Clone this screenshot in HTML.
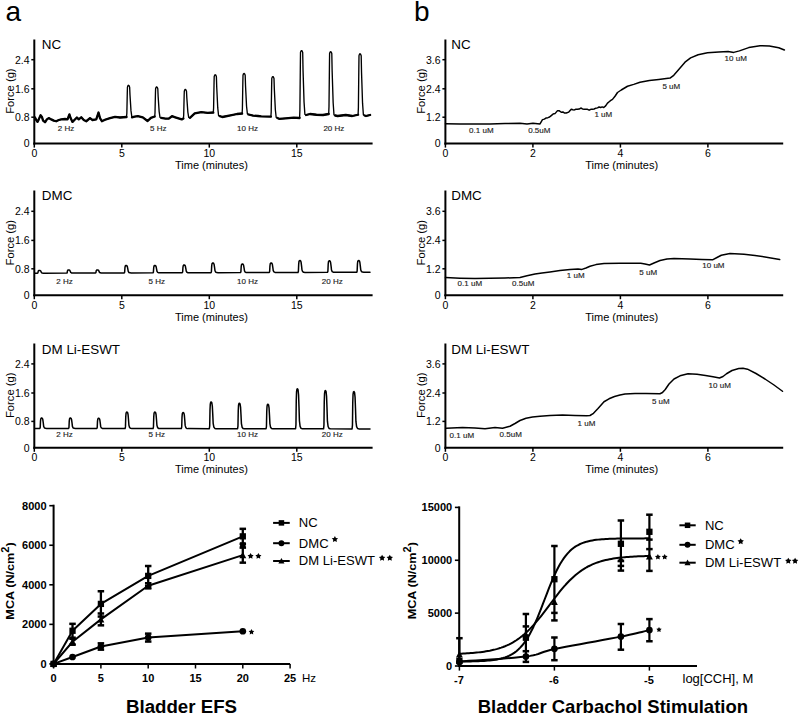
<!DOCTYPE html>
<html><head><meta charset="utf-8"><title>Bladder EFS and Carbachol</title>
<style>
html,body{margin:0;padding:0;background:#fff;}
svg{display:block;font-family:"Liberation Sans", sans-serif;}
</style></head>
<body>
<svg width="800" height="715" viewBox="0 0 800 715">
<rect width="800" height="715" fill="#fff"/>
<text x="5.5" y="21" font-size="28" text-anchor="start" font-weight="normal" fill="#000" >a</text>
<text x="414" y="21" font-size="28" text-anchor="start" font-weight="normal" fill="#000" >b</text>
<line x1="34.3" y1="39.5" x2="34.3" y2="144.6" stroke="#000" stroke-width="2"/>
<line x1="33.3" y1="143.6" x2="372.6" y2="143.6" stroke="#000" stroke-width="2"/>
<line x1="31.3" y1="117.2" x2="34.3" y2="117.2" stroke="#000" stroke-width="1.5"/>
<text x="29.5" y="121" font-size="10.5" text-anchor="end" font-weight="normal" fill="#000" >0.8</text>
<line x1="31.3" y1="88.8" x2="34.3" y2="88.8" stroke="#000" stroke-width="1.5"/>
<text x="29.5" y="92.6" font-size="10.5" text-anchor="end" font-weight="normal" fill="#000" >1.6</text>
<line x1="31.3" y1="59.7" x2="34.3" y2="59.7" stroke="#000" stroke-width="1.5"/>
<text x="29.5" y="63.5" font-size="10.5" text-anchor="end" font-weight="normal" fill="#000" >2.4</text>
<text x="29.5" y="147.4" font-size="10.5" text-anchor="end" font-weight="normal" fill="#000" >0</text>
<line x1="34.3" y1="143.6" x2="34.3" y2="147.6" stroke="#000" stroke-width="1.5"/>
<text x="34.3" y="156.9" font-size="10.5" text-anchor="middle" font-weight="normal" fill="#000" >0</text>
<line x1="121.8" y1="143.6" x2="121.8" y2="147.6" stroke="#000" stroke-width="1.5"/>
<text x="121.8" y="156.9" font-size="10.5" text-anchor="middle" font-weight="normal" fill="#000" >5</text>
<line x1="209.3" y1="143.6" x2="209.3" y2="147.6" stroke="#000" stroke-width="1.5"/>
<text x="209.3" y="156.9" font-size="10.5" text-anchor="middle" font-weight="normal" fill="#000" >10</text>
<line x1="296.8" y1="143.6" x2="296.8" y2="147.6" stroke="#000" stroke-width="1.5"/>
<text x="296.8" y="156.9" font-size="10.5" text-anchor="middle" font-weight="normal" fill="#000" >15</text>
<text transform="translate(13.5,91.1) rotate(-90)" font-size="11.2" text-anchor="middle">Force (g)</text>
<text x="211.45" y="169.2" font-size="11" text-anchor="middle" font-weight="normal" fill="#000" >Time (minutes)</text>
<text transform="translate(41.8,48.9) scale(1.1,1)" font-size="12.2">NC</text>
<line x1="445.4" y1="39.5" x2="445.4" y2="144.6" stroke="#000" stroke-width="2"/>
<line x1="444.4" y1="143.6" x2="783.2" y2="143.6" stroke="#000" stroke-width="2"/>
<line x1="442.4" y1="117.2" x2="445.4" y2="117.2" stroke="#000" stroke-width="1.5"/>
<text x="440.6" y="121" font-size="10.5" text-anchor="end" font-weight="normal" fill="#000" >1.2</text>
<line x1="442.4" y1="88.8" x2="445.4" y2="88.8" stroke="#000" stroke-width="1.5"/>
<text x="440.6" y="92.6" font-size="10.5" text-anchor="end" font-weight="normal" fill="#000" >2.4</text>
<line x1="442.4" y1="59.7" x2="445.4" y2="59.7" stroke="#000" stroke-width="1.5"/>
<text x="440.6" y="63.5" font-size="10.5" text-anchor="end" font-weight="normal" fill="#000" >3.6</text>
<text x="440.6" y="147.4" font-size="10.5" text-anchor="end" font-weight="normal" fill="#000" >0</text>
<line x1="445.4" y1="143.6" x2="445.4" y2="147.6" stroke="#000" stroke-width="1.5"/>
<text x="445.4" y="156.9" font-size="10.5" text-anchor="middle" font-weight="normal" fill="#000" >0</text>
<line x1="532.9" y1="143.6" x2="532.9" y2="147.6" stroke="#000" stroke-width="1.5"/>
<text x="532.9" y="156.9" font-size="10.5" text-anchor="middle" font-weight="normal" fill="#000" >2</text>
<line x1="620.4" y1="143.6" x2="620.4" y2="147.6" stroke="#000" stroke-width="1.5"/>
<text x="620.4" y="156.9" font-size="10.5" text-anchor="middle" font-weight="normal" fill="#000" >4</text>
<line x1="707.9" y1="143.6" x2="707.9" y2="147.6" stroke="#000" stroke-width="1.5"/>
<text x="707.9" y="156.9" font-size="10.5" text-anchor="middle" font-weight="normal" fill="#000" >6</text>
<text transform="translate(424.6,91.1) rotate(-90)" font-size="11.2" text-anchor="middle">Force (g)</text>
<text x="621.7" y="169.2" font-size="11" text-anchor="middle" font-weight="normal" fill="#000" >Time (minutes)</text>
<text transform="translate(451.2,48.9) scale(1.1,1)" font-size="12.2">NC</text>
<line x1="34.3" y1="190.5" x2="34.3" y2="296.2" stroke="#000" stroke-width="2"/>
<line x1="33.3" y1="295.2" x2="372.6" y2="295.2" stroke="#000" stroke-width="2"/>
<line x1="31.3" y1="268.8" x2="34.3" y2="268.8" stroke="#000" stroke-width="1.5"/>
<text x="29.5" y="272.6" font-size="10.5" text-anchor="end" font-weight="normal" fill="#000" >0.8</text>
<line x1="31.3" y1="240.4" x2="34.3" y2="240.4" stroke="#000" stroke-width="1.5"/>
<text x="29.5" y="244.2" font-size="10.5" text-anchor="end" font-weight="normal" fill="#000" >1.6</text>
<line x1="31.3" y1="211.3" x2="34.3" y2="211.3" stroke="#000" stroke-width="1.5"/>
<text x="29.5" y="215.1" font-size="10.5" text-anchor="end" font-weight="normal" fill="#000" >2.4</text>
<text x="29.5" y="299" font-size="10.5" text-anchor="end" font-weight="normal" fill="#000" >0</text>
<line x1="34.3" y1="295.2" x2="34.3" y2="299.2" stroke="#000" stroke-width="1.5"/>
<text x="34.3" y="308.5" font-size="10.5" text-anchor="middle" font-weight="normal" fill="#000" >0</text>
<line x1="121.8" y1="295.2" x2="121.8" y2="299.2" stroke="#000" stroke-width="1.5"/>
<text x="121.8" y="308.5" font-size="10.5" text-anchor="middle" font-weight="normal" fill="#000" >5</text>
<line x1="209.3" y1="295.2" x2="209.3" y2="299.2" stroke="#000" stroke-width="1.5"/>
<text x="209.3" y="308.5" font-size="10.5" text-anchor="middle" font-weight="normal" fill="#000" >10</text>
<line x1="296.8" y1="295.2" x2="296.8" y2="299.2" stroke="#000" stroke-width="1.5"/>
<text x="296.8" y="308.5" font-size="10.5" text-anchor="middle" font-weight="normal" fill="#000" >15</text>
<text transform="translate(13.5,242.7) rotate(-90)" font-size="11.2" text-anchor="middle">Force (g)</text>
<text x="211.45" y="320.8" font-size="11" text-anchor="middle" font-weight="normal" fill="#000" >Time (minutes)</text>
<text transform="translate(41.8,199.9) scale(1.1,1)" font-size="12.2">DMC</text>
<line x1="445.4" y1="190.5" x2="445.4" y2="296.2" stroke="#000" stroke-width="2"/>
<line x1="444.4" y1="295.2" x2="783.2" y2="295.2" stroke="#000" stroke-width="2"/>
<line x1="442.4" y1="268.8" x2="445.4" y2="268.8" stroke="#000" stroke-width="1.5"/>
<text x="440.6" y="272.6" font-size="10.5" text-anchor="end" font-weight="normal" fill="#000" >1.2</text>
<line x1="442.4" y1="240.4" x2="445.4" y2="240.4" stroke="#000" stroke-width="1.5"/>
<text x="440.6" y="244.2" font-size="10.5" text-anchor="end" font-weight="normal" fill="#000" >2.4</text>
<line x1="442.4" y1="211.3" x2="445.4" y2="211.3" stroke="#000" stroke-width="1.5"/>
<text x="440.6" y="215.1" font-size="10.5" text-anchor="end" font-weight="normal" fill="#000" >3.6</text>
<text x="440.6" y="299" font-size="10.5" text-anchor="end" font-weight="normal" fill="#000" >0</text>
<line x1="445.4" y1="295.2" x2="445.4" y2="299.2" stroke="#000" stroke-width="1.5"/>
<text x="445.4" y="308.5" font-size="10.5" text-anchor="middle" font-weight="normal" fill="#000" >0</text>
<line x1="532.9" y1="295.2" x2="532.9" y2="299.2" stroke="#000" stroke-width="1.5"/>
<text x="532.9" y="308.5" font-size="10.5" text-anchor="middle" font-weight="normal" fill="#000" >2</text>
<line x1="620.4" y1="295.2" x2="620.4" y2="299.2" stroke="#000" stroke-width="1.5"/>
<text x="620.4" y="308.5" font-size="10.5" text-anchor="middle" font-weight="normal" fill="#000" >4</text>
<line x1="707.9" y1="295.2" x2="707.9" y2="299.2" stroke="#000" stroke-width="1.5"/>
<text x="707.9" y="308.5" font-size="10.5" text-anchor="middle" font-weight="normal" fill="#000" >6</text>
<text transform="translate(424.6,242.7) rotate(-90)" font-size="11.2" text-anchor="middle">Force (g)</text>
<text x="621.7" y="320.8" font-size="11" text-anchor="middle" font-weight="normal" fill="#000" >Time (minutes)</text>
<text transform="translate(451.2,199.9) scale(1.1,1)" font-size="12.2">DMC</text>
<line x1="34.3" y1="343.5" x2="34.3" y2="448.8" stroke="#000" stroke-width="2"/>
<line x1="33.3" y1="447.8" x2="372.6" y2="447.8" stroke="#000" stroke-width="2"/>
<line x1="31.3" y1="421.4" x2="34.3" y2="421.4" stroke="#000" stroke-width="1.5"/>
<text x="29.5" y="425.2" font-size="10.5" text-anchor="end" font-weight="normal" fill="#000" >0.8</text>
<line x1="31.3" y1="393" x2="34.3" y2="393" stroke="#000" stroke-width="1.5"/>
<text x="29.5" y="396.8" font-size="10.5" text-anchor="end" font-weight="normal" fill="#000" >1.6</text>
<line x1="31.3" y1="363.9" x2="34.3" y2="363.9" stroke="#000" stroke-width="1.5"/>
<text x="29.5" y="367.7" font-size="10.5" text-anchor="end" font-weight="normal" fill="#000" >2.4</text>
<text x="29.5" y="451.6" font-size="10.5" text-anchor="end" font-weight="normal" fill="#000" >0</text>
<line x1="34.3" y1="447.8" x2="34.3" y2="451.8" stroke="#000" stroke-width="1.5"/>
<text x="34.3" y="461.1" font-size="10.5" text-anchor="middle" font-weight="normal" fill="#000" >0</text>
<line x1="121.8" y1="447.8" x2="121.8" y2="451.8" stroke="#000" stroke-width="1.5"/>
<text x="121.8" y="461.1" font-size="10.5" text-anchor="middle" font-weight="normal" fill="#000" >5</text>
<line x1="209.3" y1="447.8" x2="209.3" y2="451.8" stroke="#000" stroke-width="1.5"/>
<text x="209.3" y="461.1" font-size="10.5" text-anchor="middle" font-weight="normal" fill="#000" >10</text>
<line x1="296.8" y1="447.8" x2="296.8" y2="451.8" stroke="#000" stroke-width="1.5"/>
<text x="296.8" y="461.1" font-size="10.5" text-anchor="middle" font-weight="normal" fill="#000" >15</text>
<text transform="translate(13.5,395.3) rotate(-90)" font-size="11.2" text-anchor="middle">Force (g)</text>
<text x="211.45" y="473.4" font-size="11" text-anchor="middle" font-weight="normal" fill="#000" >Time (minutes)</text>
<text transform="translate(41.8,353.7) scale(1.1,1)" font-size="12.2">DM Li-ESWT</text>
<line x1="445.4" y1="343.5" x2="445.4" y2="448.8" stroke="#000" stroke-width="2"/>
<line x1="444.4" y1="447.8" x2="783.2" y2="447.8" stroke="#000" stroke-width="2"/>
<line x1="442.4" y1="421.4" x2="445.4" y2="421.4" stroke="#000" stroke-width="1.5"/>
<text x="440.6" y="425.2" font-size="10.5" text-anchor="end" font-weight="normal" fill="#000" >1.2</text>
<line x1="442.4" y1="393" x2="445.4" y2="393" stroke="#000" stroke-width="1.5"/>
<text x="440.6" y="396.8" font-size="10.5" text-anchor="end" font-weight="normal" fill="#000" >2.4</text>
<line x1="442.4" y1="363.9" x2="445.4" y2="363.9" stroke="#000" stroke-width="1.5"/>
<text x="440.6" y="367.7" font-size="10.5" text-anchor="end" font-weight="normal" fill="#000" >3.6</text>
<text x="440.6" y="451.6" font-size="10.5" text-anchor="end" font-weight="normal" fill="#000" >0</text>
<line x1="445.4" y1="447.8" x2="445.4" y2="451.8" stroke="#000" stroke-width="1.5"/>
<text x="445.4" y="461.1" font-size="10.5" text-anchor="middle" font-weight="normal" fill="#000" >0</text>
<line x1="532.9" y1="447.8" x2="532.9" y2="451.8" stroke="#000" stroke-width="1.5"/>
<text x="532.9" y="461.1" font-size="10.5" text-anchor="middle" font-weight="normal" fill="#000" >2</text>
<line x1="620.4" y1="447.8" x2="620.4" y2="451.8" stroke="#000" stroke-width="1.5"/>
<text x="620.4" y="461.1" font-size="10.5" text-anchor="middle" font-weight="normal" fill="#000" >4</text>
<line x1="707.9" y1="447.8" x2="707.9" y2="451.8" stroke="#000" stroke-width="1.5"/>
<text x="707.9" y="461.1" font-size="10.5" text-anchor="middle" font-weight="normal" fill="#000" >6</text>
<text transform="translate(424.6,395.3) rotate(-90)" font-size="11.2" text-anchor="middle">Force (g)</text>
<text x="621.7" y="473.4" font-size="11" text-anchor="middle" font-weight="normal" fill="#000" >Time (minutes)</text>
<text transform="translate(451.2,353.7) scale(1.1,1)" font-size="12.2">DM Li-ESWT</text>
<polyline points="35,117.5 36.25,120 37.5,121.9 38.75,119.4 40.6,115.25 41.9,116.9 43.1,120.6 45,122.25 46.9,119.4 48.75,118.1 51.25,119.4 53.75,120.6 56.25,121.25 58.75,120 61.25,119.4 65,119 67.5,119.4 69.4,114.4 70.6,118.1 72.5,121.9 74.4,120 76.9,117.5 78.75,119.4 81.25,117.25 83.75,120 86.25,121.25 90,118.1 92.5,120 96.25,119.4 98.5,112.5 100,118.1 101.9,121.25 105,119.75 110,118.1 115,116.9 120,117.5 126.5,117 126.85,113.2 127.31,91.64 127.45,87.1 127.95,85.65 128.45,85.3 129.05,85.65 129.65,87.2 129.98,94.9 131,110.9 131.85,116.8 132,117.3 134.6,116.7 137.9,116.2 142.75,117.3 147.6,121 150.9,117.8 154.7,116.5 155,112.95 155.46,92.82 155.6,88.7 156.1,87.25 156.6,86.9 157.2,87.25 157.8,88.8 158.13,96.17 159.15,111.62 160,117.3 161.2,117.8 165.5,118.6 168.75,118.6 172,116.2 175.25,117.3 181.75,119.4 183.4,118.5 183.7,115.01 184.16,95.22 184.3,91.2 184.8,89.75 185.3,89.4 185.9,89.75 186.5,91.3 186.83,97.92 187.85,112.12 188.7,117.3 189.9,117.8 194.75,113.4 201.25,112.1 207.75,112.9 213.3,112.5 213.6,107.97 214.06,82.3 214.2,76.55 214.7,75.1 215.2,74.75 215.8,75.1 216.4,76.65 216.73,87.19 217.75,107.91 218.6,115.7 219.8,116.2 222.4,117 230.5,115.4 237,114 242.1,113.5 242.4,108.69 242.86,81.46 243,75.25 243.5,73.8 244,73.45 244.6,73.8 245.2,75.35 245.53,85.77 246.55,106.29 247.4,114 248.6,114.5 253.1,115.6 258,116 261.25,116.4 270.9,116.7 271.2,111.89 271.66,84.62 271.8,78.4 272.3,76.95 272.8,76.6 273.4,76.95 274,78.5 274.33,89.02 275.35,109.72 276.2,117.5 277.4,118 279.1,118.8 285.6,118.3 293.75,117.7 299.6,118 299.9,109.91 300.36,64.08 300.5,52.4 301,50.95 301.5,50.6 302.1,50.95 302.7,52.5 303.03,69.92 304.05,102.12 304.9,114.5 306.1,115 310,114 316.5,114.75 323,115 328.7,114 329,106.52 329.46,64.16 329.6,53.5 330.1,52.05 330.6,51.7 331.2,52.05 331.8,53.6 332.13,70.84 333.15,102.74 334,115 335.2,115.5 337.6,116 345.75,115 352.25,116 358.1,114.75 358.4,107.44 358.86,65.99 359,55.6 359.5,54.15 360,53.8 360.6,54.15 361.2,55.7 361.53,72.31 362.55,103.16 363.4,115 364.6,115.5 366,116 370.1,115" fill="none" stroke="#000" stroke-width="1.35" stroke-linejoin="round" stroke-linecap="round" />
<polyline points="35,117.5 36.25,120 37.5,121.9 38.75,119.4 40.6,115.25 41.9,116.9 43.1,120.6 45,122.25 46.9,119.4 48.75,118.1 51.25,119.4 53.75,120.6 56.25,121.25 58.75,120 61.25,119.4 65,119 67.5,119.4 69.4,114.4 70.6,118.1 72.5,121.9 74.4,120 76.9,117.5 78.75,119.4 81.25,117.25 83.75,120 86.25,121.25 90,118.1 92.5,120 96.25,119.4 98.5,112.5 100,118.1 101.9,121.25 105,119.75 110,118.1 115,116.9 120,117.5 126.5,117" fill="none" stroke="#000" stroke-width="2.3" stroke-linejoin="round" stroke-linecap="round" />
<polyline points="132,117.3 134.6,116.7 137.9,116.2 142.75,117.3 147.6,121 150.9,117.8 154.7,116.5" fill="none" stroke="#000" stroke-width="2.3" stroke-linejoin="round" stroke-linecap="round" />
<polyline points="161.2,117.8 165.5,118.6 168.75,118.6 172,116.2 175.25,117.3 181.75,119.4 183.4,118.5" fill="none" stroke="#000" stroke-width="2.3" stroke-linejoin="round" stroke-linecap="round" />
<polyline points="189.9,117.8 194.75,113.4 201.25,112.1 207.75,112.9 213.3,112.5" fill="none" stroke="#000" stroke-width="2.3" stroke-linejoin="round" stroke-linecap="round" />
<polyline points="219.8,116.2 222.4,117 230.5,115.4 237,114 242.1,113.5" fill="none" stroke="#000" stroke-width="2.3" stroke-linejoin="round" stroke-linecap="round" />
<polyline points="248.6,114.5 253.1,115.6 258,116 261.25,116.4 270.9,116.7" fill="none" stroke="#000" stroke-width="2.3" stroke-linejoin="round" stroke-linecap="round" />
<polyline points="277.4,118 279.1,118.8 285.6,118.3 293.75,117.7 299.6,118" fill="none" stroke="#000" stroke-width="2.3" stroke-linejoin="round" stroke-linecap="round" />
<polyline points="306.1,115 310,114 316.5,114.75 323,115 328.7,114" fill="none" stroke="#000" stroke-width="2.3" stroke-linejoin="round" stroke-linecap="round" />
<polyline points="335.2,115.5 337.6,116 345.75,115 352.25,116 358.1,114.75" fill="none" stroke="#000" stroke-width="2.3" stroke-linejoin="round" stroke-linecap="round" />
<polyline points="364.6,115.5 366,116 370.1,115" fill="none" stroke="#000" stroke-width="2.3" stroke-linejoin="round" stroke-linecap="round" />
<polyline points="35,273.2 37.5,273.19 37.9,272.92 38.2,271.31 38.5,270.71 38.95,270.53 39.5,270.5 40.1,270.58 40.6,270.9 41.05,271.71 41.5,272.65 42.2,273.03 43.2,273.16 44.5,273.19 66.75,273.1 67.15,272.79 67.45,270.93 67.75,270.25 68.2,270.03 68.75,270 69.35,270.09 69.85,270.46 70.3,271.39 70.75,272.48 71.45,272.91 72.45,273.07 73.75,273.1 95.5,273.01 95.9,272.71 96.2,270.9 96.5,270.24 96.95,270.03 97.5,270 98.1,270.09 98.6,270.45 99.05,271.36 99.5,272.41 100.2,272.83 101.2,272.98 102.5,273.01 124.25,272.93 124.65,272.18 124.95,267.73 125.25,266.09 125.7,265.57 126.25,265.5 126.85,265.72 127.35,266.61 127.8,268.84 128.25,271.44 128.95,272.48 129.95,272.85 131.25,272.93 153,272.84 153.4,272.11 153.7,267.7 154,266.09 154.45,265.57 155,265.5 155.6,265.72 156.1,266.6 156.55,268.8 157,271.37 157.7,272.4 158.7,272.77 160,272.84 182.25,272.75 182.65,271.98 182.95,267.33 183.25,265.62 183.7,265.08 184.25,265 184.85,265.23 185.35,266.16 185.8,268.49 186.25,271.2 186.95,272.29 187.95,272.68 189.25,272.75 211,272.67 211.4,271.7 211.7,265.9 212,263.77 212.45,263.1 213,263 213.6,263.29 214.1,264.45 214.55,267.35 215,270.73 215.7,272.09 216.7,272.57 218,272.67 240.5,272.58 240.9,271.72 241.2,266.57 241.5,264.69 241.95,264.09 242.5,264 243.1,264.26 243.6,265.29 244.05,267.86 244.5,270.86 245.2,272.07 246.2,272.49 247.5,272.58 269.25,272.49 269.65,271.55 269.95,265.85 270.25,263.76 270.7,263.09 271.25,263 271.85,263.28 272.35,264.42 272.8,267.27 273.25,270.6 273.95,271.93 274.95,272.4 276.25,272.49 298,272.41 298.4,271.22 298.7,264.07 299,261.45 299.45,260.62 300,260.5 300.6,260.86 301.1,262.29 301.55,265.86 302,270.03 302.7,271.69 303.7,272.29 305,272.41 327.5,272.32 327.9,271.16 328.2,264.22 328.5,261.68 328.95,260.87 329.5,260.75 330.1,261.1 330.6,262.49 331.05,265.96 331.5,270.01 332.2,271.63 333.2,272.21 334.5,272.32 356.75,272.23 357.15,271.06 357.45,264.02 357.75,261.44 358.2,260.62 358.75,260.5 359.35,260.85 359.85,262.26 360.3,265.78 360.75,269.89 361.45,271.53 362.45,272.12 363.75,272.23 370,272.2" fill="none" stroke="#000" stroke-width="1.5" stroke-linejoin="round" stroke-linecap="round" />
<polyline points="35,428.4 39.83,428.41 40.21,427.37 40.5,421.12 40.79,418.83 41.22,418.1 41.75,418 42.33,418.31 42.81,419.56 43.24,422.68 43.67,426.33 44.35,427.79 45.31,428.31 46.56,428.41 68.58,428.45 68.96,427.41 69.25,421.14 69.54,418.84 69.97,418.1 70.5,418 71.08,418.31 71.56,419.57 71.99,422.7 72.42,426.36 73.1,427.83 74.06,428.35 75.31,428.45 96.83,428.5 97.21,427.47 97.5,421.32 97.79,419.07 98.22,418.35 98.75,418.25 99.33,418.56 99.81,419.79 100.24,422.86 100.67,426.45 101.35,427.88 102.31,428.39 103.56,428.5 125.08,428.54 125.46,426.88 125.75,416.96 126.04,413.32 126.47,412.17 127,412 127.58,412.5 128.06,414.48 128.49,419.44 128.92,425.23 129.6,427.55 130.56,428.37 131.81,428.54 153.08,428.58 153.46,426.92 153.75,416.97 154.04,413.33 154.47,412.17 155,412 155.58,412.5 156.06,414.49 156.49,419.46 156.92,425.26 157.6,427.58 158.56,428.41 159.81,428.58 181.33,428.62 181.71,427.01 182,417.34 182.29,413.79 182.72,412.66 183.25,412.5 183.83,412.98 184.31,414.92 184.74,419.75 185.17,425.4 185.85,427.65 186.81,428.46 188.06,428.62 209.33,428.66 209.71,426 210,410 210.29,404.13 210.72,402.27 211.25,402 211.83,402.8 212.31,406 212.74,414 213.17,423.33 213.85,427.06 214.81,428.4 216.06,428.66 237.58,428.71 237.96,426.16 238.25,410.89 238.54,405.29 238.97,403.5 239.5,403.25 240.08,404.01 240.56,407.07 240.99,414.7 241.42,423.61 242.1,427.18 243.06,428.45 244.31,428.71 266.08,428.75 266.46,426.3 266.75,411.6 267.04,406.21 267.47,404.49 268,404.25 268.58,404.98 269.06,407.92 269.49,415.27 269.92,423.85 270.6,427.28 271.56,428.5 272.81,428.75 295.58,428.79 295.96,424.79 296.25,400.76 296.54,391.95 296.97,389.15 297.5,388.75 298.08,389.95 298.56,394.76 298.99,406.77 299.42,420.78 300.1,426.39 301.06,428.39 302.31,428.79 323.58,428.83 323.96,425 324.25,402 324.54,393.57 324.97,390.88 325.5,390.5 326.08,391.65 326.56,396.25 326.99,407.75 327.42,421.17 328.1,426.53 329.06,428.45 330.31,428.83 352.08,428.88 352.46,425.14 352.75,402.71 353.04,394.49 353.47,391.87 354,391.5 354.58,392.62 355.06,397.11 355.49,408.32 355.92,421.4 356.6,426.63 357.56,428.5 358.81,428.88 370,428.9" fill="none" stroke="#000" stroke-width="1.5" stroke-linejoin="round" stroke-linecap="round" />
<text x="57.8" y="130.9" font-size="8" text-anchor="start" font-weight="normal" fill="#222" stroke="#222" stroke-width="0.15">2 Hz</text>
<text x="150.1" y="130.9" font-size="8" text-anchor="start" font-weight="normal" fill="#222" stroke="#222" stroke-width="0.15">5 Hz</text>
<text x="237.1" y="130.9" font-size="8" text-anchor="start" font-weight="normal" fill="#222" stroke="#222" stroke-width="0.15">10 Hz</text>
<text x="323.4" y="130.9" font-size="8" text-anchor="start" font-weight="normal" fill="#222" stroke="#222" stroke-width="0.15">20 Hz</text>
<text x="56.3" y="283.9" font-size="8" text-anchor="start" font-weight="normal" fill="#222" stroke="#222" stroke-width="0.15">2 Hz</text>
<text x="148.6" y="283.9" font-size="8" text-anchor="start" font-weight="normal" fill="#222" stroke="#222" stroke-width="0.15">5 Hz</text>
<text x="237.1" y="283.9" font-size="8" text-anchor="start" font-weight="normal" fill="#222" stroke="#222" stroke-width="0.15">10 Hz</text>
<text x="321.8" y="283.9" font-size="8" text-anchor="start" font-weight="normal" fill="#222" stroke="#222" stroke-width="0.15">20 Hz</text>
<text x="56.3" y="437" font-size="8" text-anchor="start" font-weight="normal" fill="#222" stroke="#222" stroke-width="0.15">2 Hz</text>
<text x="148.6" y="437" font-size="8" text-anchor="start" font-weight="normal" fill="#222" stroke="#222" stroke-width="0.15">5 Hz</text>
<text x="237.1" y="437" font-size="8" text-anchor="start" font-weight="normal" fill="#222" stroke="#222" stroke-width="0.15">10 Hz</text>
<text x="321.8" y="437" font-size="8" text-anchor="start" font-weight="normal" fill="#222" stroke="#222" stroke-width="0.15">20 Hz</text>
<polyline points="445.5,123.8 460,124 475,123.9 490,124 505,123.6 520,123.3 527,124 533,123.2 540,123.9 542.5,119.61 544.38,119.12 546.25,117.9 547.92,117.64 549.58,117.06 551.25,115.6 553.12,113.94 555,113.61 557.5,110.64 559.38,110.85 561.25,112.24 562.92,111.99 564.58,113.07 566.25,113.06 568.75,112.11 571.25,109.23 572.81,109.76 574.38,109.93 575.94,109.22 577.5,109.36 579.17,109.09 580.83,108.01 582.5,108.89 584.17,109.14 585.83,109.2 587.5,109.3 589.17,110.21 590.83,109.29 592.5,109.33 594.17,108.98 595.83,108.15 597.5,107.88 599.06,107 600.62,107.53 602.19,106.9 603.75,107.55 605.62,105.89 607.5,103.15 609.17,101.75 610.83,100.43 612.5,99.4 615,96.25 617.5,92.5 621.25,90 627.5,86.25 633.75,84.4 640,82.2 649.4,80.4 658.75,79.4 670,78.1 673.75,75.3 679.4,68.75 685,62.2 690.6,57.9 698.1,54.7 707.5,52.8 718.75,51.9 728.1,51.5 733.75,52.4 739.4,50.9 748.75,47.6 760,45.7 769.4,45.9 778.75,47.75 784.4,50" fill="none" stroke="#000" stroke-width="1.5" stroke-linejoin="round" stroke-linecap="round" />
<polyline points="445.5,277.6 460,278.2 475,278.6 490,278.2 505,278 520,277.6 527,275.8 535,274 542,273 550,272 560,270.6 570,269.4 578,269 582,269.4 586,268 590,266.3 596,264.6 604,263.5 620,263.3 640.75,263.3 645,264 649.5,265 654,263 660,260.5 667,259 674,258.4 690,259 702,259.5 712.5,259.8 717,257.5 721.25,255.25 730,253.5 744,254.2 755,255.5 765,257 779.7,259.5" fill="none" stroke="#000" stroke-width="1.5" stroke-linejoin="round" stroke-linecap="round" />
<polyline points="446.25,428.25 462.5,427.5 475,428 485,428.75 495,427.5 502.5,428.25 510,426.25 515,423.5 520,420.5 526,418.3 532.5,417 540,416.2 550,415.5 562.5,415 575,415.5 586.5,415.75 590,415.5 593.5,413.3 598,408.5 604,401.75 609,398.8 614.5,396.5 620,395 625,394 635,393.6 646,393.4 660,393.7 662.5,392.5 665.25,389.5 669,384 674,379 680,375.8 688,373.75 697,374.3 705.5,375.5 713,376.8 719.5,378 723,376.5 726.5,373.75 732,370.5 738.75,368.5 743,368.3 747.5,369.2 756,373.5 765,379 774,385 782.5,391.25" fill="none" stroke="#000" stroke-width="1.5" stroke-linejoin="round" stroke-linecap="round" />
<text x="469.1" y="132.7" font-size="8" text-anchor="start" font-weight="normal" fill="#222" stroke="#222" stroke-width="0.15">0.1 uM</text>
<text x="528.2" y="132.7" font-size="8" text-anchor="start" font-weight="normal" fill="#222" stroke="#222" stroke-width="0.15">0.5uM</text>
<text x="594.4" y="116.6" font-size="8" text-anchor="start" font-weight="normal" fill="#222" stroke="#222" stroke-width="0.15">1 uM</text>
<text x="662.4" y="88.6" font-size="8" text-anchor="start" font-weight="normal" fill="#222" stroke="#222" stroke-width="0.15">5 uM</text>
<text x="724.6" y="61.3" font-size="8" text-anchor="start" font-weight="normal" fill="#222" stroke="#222" stroke-width="0.15">10 uM</text>
<text x="457.6" y="286.25" font-size="8" text-anchor="start" font-weight="normal" fill="#222" stroke="#222" stroke-width="0.15">0.1 uM</text>
<text x="512.1" y="286" font-size="8" text-anchor="start" font-weight="normal" fill="#222" stroke="#222" stroke-width="0.15">0.5uM</text>
<text x="566.85" y="278" font-size="8" text-anchor="start" font-weight="normal" fill="#222" stroke="#222" stroke-width="0.15">1 uM</text>
<text x="639.3" y="274.5" font-size="8" text-anchor="start" font-weight="normal" fill="#222" stroke="#222" stroke-width="0.15">5 uM</text>
<text x="702.3" y="267.5" font-size="8" text-anchor="start" font-weight="normal" fill="#222" stroke="#222" stroke-width="0.15">10 uM</text>
<text x="449.6" y="438.25" font-size="8" text-anchor="start" font-weight="normal" fill="#222" stroke="#222" stroke-width="0.15">0.1 uM</text>
<text x="499.6" y="437" font-size="8" text-anchor="start" font-weight="normal" fill="#222" stroke="#222" stroke-width="0.15">0.5uM</text>
<text x="577.6" y="425.8" font-size="8" text-anchor="start" font-weight="normal" fill="#222" stroke="#222" stroke-width="0.15">1 uM</text>
<text x="651.9" y="404.2" font-size="8" text-anchor="start" font-weight="normal" fill="#222" stroke="#222" stroke-width="0.15">5 uM</text>
<text x="708.6" y="387.75" font-size="8" text-anchor="start" font-weight="normal" fill="#222" stroke="#222" stroke-width="0.15">10 uM</text>
<line x1="53.6" y1="504.7" x2="53.6" y2="664.9" stroke="#000" stroke-width="2"/>
<line x1="52.6" y1="663.9" x2="290.1" y2="663.9" stroke="#000" stroke-width="2"/>
<line x1="49.3" y1="663.9" x2="53.6" y2="663.9" stroke="#000" stroke-width="1.6"/>
<text x="46.6" y="667.9" font-size="11" text-anchor="end" font-weight="bold" fill="#000" >0</text>
<line x1="49.3" y1="624.35" x2="53.6" y2="624.35" stroke="#000" stroke-width="1.6"/>
<text x="46.6" y="628.35" font-size="11" text-anchor="end" font-weight="bold" fill="#000" >2000</text>
<line x1="49.3" y1="584.8" x2="53.6" y2="584.8" stroke="#000" stroke-width="1.6"/>
<text x="46.6" y="588.8" font-size="11" text-anchor="end" font-weight="bold" fill="#000" >4000</text>
<line x1="49.3" y1="545.25" x2="53.6" y2="545.25" stroke="#000" stroke-width="1.6"/>
<text x="46.6" y="549.25" font-size="11" text-anchor="end" font-weight="bold" fill="#000" >6000</text>
<line x1="49.3" y1="505.7" x2="53.6" y2="505.7" stroke="#000" stroke-width="1.6"/>
<text x="46.6" y="509.7" font-size="11" text-anchor="end" font-weight="bold" fill="#000" >8000</text>
<line x1="53.6" y1="663.9" x2="53.6" y2="668.5" stroke="#000" stroke-width="1.5"/>
<text x="53.6" y="681.5" font-size="11" text-anchor="middle" font-weight="bold" fill="#000" >0</text>
<line x1="100.9" y1="663.9" x2="100.9" y2="668.5" stroke="#000" stroke-width="1.5"/>
<text x="100.9" y="681.5" font-size="11" text-anchor="middle" font-weight="bold" fill="#000" >5</text>
<line x1="148.2" y1="663.9" x2="148.2" y2="668.5" stroke="#000" stroke-width="1.5"/>
<text x="148.2" y="681.5" font-size="11" text-anchor="middle" font-weight="bold" fill="#000" >10</text>
<line x1="195.5" y1="663.9" x2="195.5" y2="668.5" stroke="#000" stroke-width="1.5"/>
<text x="195.5" y="681.5" font-size="11" text-anchor="middle" font-weight="bold" fill="#000" >15</text>
<line x1="242.8" y1="663.9" x2="242.8" y2="668.5" stroke="#000" stroke-width="1.5"/>
<text x="242.8" y="681.5" font-size="11" text-anchor="middle" font-weight="bold" fill="#000" >20</text>
<line x1="290.1" y1="663.9" x2="290.1" y2="668.5" stroke="#000" stroke-width="1.5"/>
<text x="290.1" y="681.5" font-size="11" text-anchor="middle" font-weight="bold" fill="#000" >25</text>
<text x="302" y="681.5" font-size="11.5" text-anchor="start" font-weight="normal" fill="#000" >Hz</text>
<text transform="translate(13.9,581) rotate(-90) scale(1.1,1)" font-size="11.5" font-weight="bold" text-anchor="middle">MCA (N/cm<tspan dy="-5" font-size="10">2</tspan><tspan dy="5">)</tspan></text>
<text x="181.5" y="713" font-size="18.7" text-anchor="middle" font-weight="bold" fill="#000" >Bladder EFS</text>
<polyline points="53.6,663.9 72.52,630.76 100.9,603.9 148.2,575.9 242.8,536.35" fill="none" stroke="#000" stroke-width="2" stroke-linejoin="round" stroke-linecap="round" />
<polyline points="53.6,663.9 72.52,656.98 100.9,646.5 148.2,637.6 242.8,631.27" fill="none" stroke="#000" stroke-width="2" stroke-linejoin="round" stroke-linecap="round" />
<polyline points="53.6,663.9 72.52,641.75 100.9,619.41 148.2,585.79 242.8,555.14" fill="none" stroke="#000" stroke-width="2" stroke-linejoin="round" stroke-linecap="round" />
<rect x="50.45" y="660.75" width="6.3" height="6.3" fill="#000"/>
<line x1="72.52" y1="623.84" x2="72.52" y2="637.68" stroke="#000" stroke-width="2.3"/>
<line x1="69.27" y1="623.84" x2="75.77" y2="623.84" stroke="#000" stroke-width="2.5"/>
<line x1="69.27" y1="637.68" x2="75.77" y2="637.68" stroke="#000" stroke-width="2.5"/>
<rect x="69.37" y="627.61" width="6.3" height="6.3" fill="#000"/>
<line x1="100.9" y1="591.25" x2="100.9" y2="616.56" stroke="#000" stroke-width="2.3"/>
<line x1="97.65" y1="591.25" x2="104.15" y2="591.25" stroke="#000" stroke-width="2.5"/>
<line x1="97.65" y1="616.56" x2="104.15" y2="616.56" stroke="#000" stroke-width="2.5"/>
<rect x="97.75" y="600.75" width="6.3" height="6.3" fill="#000"/>
<line x1="148.2" y1="566.01" x2="148.2" y2="585.79" stroke="#000" stroke-width="2.3"/>
<line x1="144.95" y1="566.01" x2="151.45" y2="566.01" stroke="#000" stroke-width="2.5"/>
<line x1="144.95" y1="585.79" x2="151.45" y2="585.79" stroke="#000" stroke-width="2.5"/>
<rect x="145.05" y="572.75" width="6.3" height="6.3" fill="#000"/>
<line x1="242.8" y1="528.84" x2="242.8" y2="543.87" stroke="#000" stroke-width="2.3"/>
<line x1="239.55" y1="528.84" x2="246.05" y2="528.84" stroke="#000" stroke-width="2.5"/>
<line x1="239.55" y1="543.87" x2="246.05" y2="543.87" stroke="#000" stroke-width="2.5"/>
<rect x="239.65" y="533.2" width="6.3" height="6.3" fill="#000"/>
<circle cx="53.6" cy="663.9" r="3.35" fill="#000"/>
<circle cx="72.52" cy="656.98" r="3.35" fill="#000"/>
<line x1="100.9" y1="643.33" x2="100.9" y2="649.66" stroke="#000" stroke-width="2.3"/>
<line x1="97.65" y1="643.33" x2="104.15" y2="643.33" stroke="#000" stroke-width="2.5"/>
<line x1="97.65" y1="649.66" x2="104.15" y2="649.66" stroke="#000" stroke-width="2.5"/>
<circle cx="100.9" cy="646.5" r="3.35" fill="#000"/>
<line x1="148.2" y1="633.64" x2="148.2" y2="641.55" stroke="#000" stroke-width="2.3"/>
<line x1="144.95" y1="633.64" x2="151.45" y2="633.64" stroke="#000" stroke-width="2.5"/>
<line x1="144.95" y1="641.55" x2="151.45" y2="641.55" stroke="#000" stroke-width="2.5"/>
<circle cx="148.2" cy="637.6" r="3.35" fill="#000"/>
<circle cx="242.8" cy="631.27" r="3.35" fill="#000"/>
<polygon points="53.6,660.41 50.15,666.89 57.05,666.89" fill="#000"/>
<line x1="72.52" y1="638.79" x2="72.52" y2="644.72" stroke="#000" stroke-width="2.3"/>
<line x1="69.27" y1="638.79" x2="75.77" y2="638.79" stroke="#000" stroke-width="2.5"/>
<line x1="69.27" y1="644.72" x2="75.77" y2="644.72" stroke="#000" stroke-width="2.5"/>
<polygon points="72.52,638.26 69.07,644.74 75.97,644.74" fill="#000"/>
<line x1="100.9" y1="613.47" x2="100.9" y2="625.34" stroke="#000" stroke-width="2.3"/>
<line x1="97.65" y1="613.47" x2="104.15" y2="613.47" stroke="#000" stroke-width="2.5"/>
<line x1="97.65" y1="625.34" x2="104.15" y2="625.34" stroke="#000" stroke-width="2.5"/>
<polygon points="100.9,615.91 97.45,622.4 104.35,622.4" fill="#000"/>
<line x1="148.2" y1="583.22" x2="148.2" y2="588.36" stroke="#000" stroke-width="2.3"/>
<line x1="144.95" y1="583.22" x2="151.45" y2="583.22" stroke="#000" stroke-width="2.5"/>
<line x1="144.95" y1="588.36" x2="151.45" y2="588.36" stroke="#000" stroke-width="2.5"/>
<polygon points="148.2,582.3 144.75,588.78 151.65,588.78" fill="#000"/>
<line x1="242.8" y1="547.62" x2="242.8" y2="562.65" stroke="#000" stroke-width="2.3"/>
<line x1="239.55" y1="547.62" x2="246.05" y2="547.62" stroke="#000" stroke-width="2.5"/>
<line x1="239.55" y1="562.65" x2="246.05" y2="562.65" stroke="#000" stroke-width="2.5"/>
<polygon points="242.8,551.64 239.35,558.13 246.25,558.13" fill="#000"/>
<rect x="240.05" y="542.25" width="5.5" height="5.5" fill="#000"/>
<polygon points="250.6,553 251.58,554.85 253.64,555.21 252.18,556.71 252.48,558.79 250.6,557.86 248.72,558.79 249.02,556.71 247.56,555.21 249.62,554.85" fill="#000"/>
<polygon points="258.4,553 259.38,554.85 261.44,555.21 259.98,556.71 260.28,558.79 258.4,557.86 256.52,558.79 256.82,556.71 255.36,555.21 257.42,554.85" fill="#000"/>
<polygon points="251.5,629.05 252.4,630.76 254.31,631.09 252.96,632.47 253.23,634.39 251.5,633.53 249.77,634.39 250.04,632.47 248.69,631.09 250.6,630.76" fill="#000"/>
<line x1="273.1" y1="522.9" x2="289.75" y2="522.9" stroke="#000" stroke-width="2"/>
<rect x="278.68" y="520.15" width="5.5" height="5.5" fill="#000"/>
<text transform="translate(298.8,527.2) scale(1.09,1)" font-size="12">NC</text>
<line x1="273.1" y1="543.2" x2="289.75" y2="543.2" stroke="#000" stroke-width="2"/>
<circle cx="281.43" cy="543.2" r="2.95" fill="#000"/>
<text transform="translate(298.8,547.5) scale(1.09,1)" font-size="12">DMC</text>
<line x1="273.1" y1="561" x2="289.75" y2="561" stroke="#000" stroke-width="2"/>
<polygon points="281.43,557.89 278.38,563.61 284.48,563.61" fill="#000"/>
<text transform="translate(298.8,565.3) scale(1.09,1)" font-size="12">DM Li-ESWT</text>
<polygon points="334.9,535.95 335.92,537.89 338.09,538.26 336.56,539.84 336.87,542.01 334.9,541.04 332.93,542.01 333.24,539.84 331.71,538.26 333.88,537.89" fill="#000"/>
<polygon points="382.1,554.65 383.12,556.59 385.29,556.96 383.76,558.54 384.07,560.71 382.1,559.74 380.13,560.71 380.44,558.54 378.91,556.96 381.08,556.59" fill="#000"/>
<polygon points="389.8,554.65 390.82,556.59 392.99,556.96 391.46,558.54 391.77,560.71 389.8,559.74 387.83,560.71 388.14,558.54 386.61,556.96 388.78,556.59" fill="#000"/>
<line x1="459.2" y1="506.4" x2="459.2" y2="667" stroke="#000" stroke-width="2"/>
<line x1="458.2" y1="666" x2="697" y2="666" stroke="#000" stroke-width="2"/>
<line x1="454.9" y1="666" x2="459.2" y2="666" stroke="#000" stroke-width="1.6"/>
<text x="452.2" y="670" font-size="11" text-anchor="end" font-weight="bold" fill="#000" >0</text>
<line x1="454.9" y1="613.13" x2="459.2" y2="613.13" stroke="#000" stroke-width="1.6"/>
<text x="452.2" y="617.13" font-size="11" text-anchor="end" font-weight="bold" fill="#000" >5000</text>
<line x1="454.9" y1="560.27" x2="459.2" y2="560.27" stroke="#000" stroke-width="1.6"/>
<text x="452.2" y="564.27" font-size="11" text-anchor="end" font-weight="bold" fill="#000" >10000</text>
<line x1="454.9" y1="507.4" x2="459.2" y2="507.4" stroke="#000" stroke-width="1.6"/>
<text x="452.2" y="511.4" font-size="11" text-anchor="end" font-weight="bold" fill="#000" >15000</text>
<line x1="459.4" y1="666" x2="459.4" y2="670.6" stroke="#000" stroke-width="1.5"/>
<text x="458.9" y="683.7" font-size="11" text-anchor="middle" font-weight="bold" fill="#000" >-7</text>
<line x1="554.4" y1="666" x2="554.4" y2="670.6" stroke="#000" stroke-width="1.5"/>
<text x="553.9" y="683.7" font-size="11" text-anchor="middle" font-weight="bold" fill="#000" >-6</text>
<line x1="649.4" y1="666" x2="649.4" y2="670.6" stroke="#000" stroke-width="1.5"/>
<text x="648.9" y="683.7" font-size="11" text-anchor="middle" font-weight="bold" fill="#000" >-5</text>
<text x="682.5" y="682.5" font-size="13" text-anchor="start" font-weight="normal" fill="#000" >log[CCH], M</text>
<text transform="translate(415.6,580.7) rotate(-90) scale(1.1,1)" font-size="11.5" font-weight="bold" text-anchor="middle">MCA (N/cm<tspan dy="-5" font-size="10">2</tspan><tspan dy="5">)</tspan></text>
<text x="612.9" y="713" font-size="18.5" text-anchor="middle" font-weight="bold" fill="#000" >Bladder Carbachol Stimulation</text>
<polyline points="459.4,661.53 461.3,661.52 463.2,661.5 465.1,661.48 467,661.45 468.9,661.42 470.8,661.39 472.7,661.35 474.6,661.3 476.5,661.24 478.4,661.17 480.3,661.09 482.2,661 484.1,660.89 486,660.77 487.9,660.62 489.8,660.44 491.7,660.24 493.6,660 495.5,659.72 497.4,659.39 499.3,659.01 501.2,658.57 503.1,658.05 505,657.44 506.9,656.74 508.8,655.92 510.7,654.98 512.6,653.89 514.5,652.63 516.4,651.19 518.3,649.54 520.2,647.66 522.1,645.54 524,643.14 525.9,640.46 527.8,637.48 529.7,634.19 531.6,630.59 533.5,626.7 535.4,622.52 537.3,618.09 539.2,613.45 541.1,608.64 543,603.71 544.9,598.74 546.8,593.79 548.7,588.92 550.6,584.18 552.5,579.64 554.4,575.33 556.3,571.29 558.2,567.54 560.1,564.1 562,560.97 563.9,558.14 565.8,555.6 567.7,553.34 569.6,551.34 571.5,549.58 573.4,548.04 575.3,546.69 577.2,545.52 579.1,544.51 581,543.63 582.9,542.87 584.8,542.22 586.7,541.66 588.6,541.18 590.5,540.76 592.4,540.41 594.3,540.11 596.2,539.85 598.1,539.63 600,539.44 601.9,539.28 603.8,539.14 605.7,539.02 607.6,538.92 609.5,538.84 611.4,538.77 613.3,538.71 615.2,538.65 617.1,538.61 619,538.57 620.9,538.54 622.8,538.51 624.7,538.49 626.6,538.47 628.5,538.45 630.4,538.44 632.3,538.42 634.2,538.41 636.1,538.4 638,538.4 639.9,538.39 641.8,538.38 643.7,538.38 645.6,538.37 647.5,538.37 649.4,538.37" fill="none" stroke="#000" stroke-width="2" stroke-linejoin="round" stroke-linecap="round" />
<polyline points="459.4,653.71 461.3,653.63 463.2,653.54 465.1,653.44 467,653.33 468.9,653.21 470.8,653.07 472.7,652.92 474.6,652.76 476.5,652.58 478.4,652.38 480.3,652.16 482.2,651.91 484.1,651.64 486,651.35 487.9,651.02 489.8,650.67 491.7,650.27 493.6,649.84 495.5,649.37 497.4,648.85 499.3,648.28 501.2,647.66 503.1,646.98 505,646.23 506.9,645.43 508.8,644.55 510.7,643.6 512.6,642.56 514.5,641.45 516.4,640.25 518.3,638.95 520.2,637.56 522.1,636.08 524,634.49 525.9,632.81 527.8,631.03 529.7,629.15 531.6,627.17 533.5,625.1 535.4,622.94 537.3,620.7 539.2,618.39 541.1,616.01 543,613.57 544.9,611.09 546.8,608.59 548.7,606.06 550.6,603.52 552.5,601 554.4,598.49 556.3,596.02 558.2,593.6 560.1,591.23 562,588.92 563.9,586.7 565.8,584.55 567.7,582.5 569.6,580.53 571.5,578.67 573.4,576.9 575.3,575.23 577.2,573.67 579.1,572.2 581,570.82 582.9,569.54 584.8,568.36 586.7,567.25 588.6,566.23 590.5,565.29 592.4,564.43 594.3,563.63 596.2,562.9 598.1,562.23 600,561.62 601.9,561.05 603.8,560.54 605.7,560.08 607.6,559.65 609.5,559.26 611.4,558.91 613.3,558.59 615.2,558.3 617.1,558.03 619,557.79 620.9,557.58 622.8,557.38 624.7,557.2 626.6,557.04 628.5,556.89 630.4,556.76 632.3,556.64 634.2,556.53 636.1,556.43 638,556.34 639.9,556.26 641.8,556.19 643.7,556.13 645.6,556.07 647.5,556.01 649.4,555.96" fill="none" stroke="#000" stroke-width="2" stroke-linejoin="round" stroke-linecap="round" />
<polyline points="459.4,661.45 463.53,661.17 469.05,660.82 475.66,660.4 483.04,659.94 490.87,659.43 498.84,658.89 506.65,658.31 513.97,657.71 520.49,657.1 525.9,656.48 530.12,655.87 533.42,655.24 536.05,654.6 538.21,653.94 540.15,653.25 542.09,652.53 544.25,651.75 546.88,650.93 550.18,650.04 554.4,649.08 559.68,648.01 565.88,646.82 572.75,645.53 580.09,644.17 587.65,642.79 595.21,641.41 602.55,640.07 609.42,638.8 615.62,637.64 620.9,636.61 625.42,635.68 629.49,634.81 633.14,634 636.4,633.24 639.31,632.55 641.88,631.92 644.14,631.35 646.13,630.85 647.88,630.42 649.4,630.05" fill="none" stroke="#000" stroke-width="2" stroke-linejoin="round" stroke-linecap="round" />
<line x1="459.4" y1="638.2" x2="459.4" y2="664" stroke="#000" stroke-width="2.2"/>
<line x1="456.15" y1="638.2" x2="462.65" y2="638.2" stroke="#000" stroke-width="2.5"/>
<line x1="525.9" y1="614" x2="525.9" y2="661.9" stroke="#000" stroke-width="2.2"/>
<line x1="522.65" y1="614" x2="529.15" y2="614" stroke="#000" stroke-width="2.5"/>
<line x1="522.65" y1="626.4" x2="529.15" y2="626.4" stroke="#000" stroke-width="2.5"/>
<line x1="522.65" y1="651.2" x2="529.15" y2="651.2" stroke="#000" stroke-width="2.5"/>
<line x1="522.65" y1="661.9" x2="529.15" y2="661.9" stroke="#000" stroke-width="2.5"/>
<line x1="554.4" y1="546" x2="554.4" y2="620.4" stroke="#000" stroke-width="2.2"/>
<line x1="551.15" y1="546" x2="557.65" y2="546" stroke="#000" stroke-width="2.5"/>
<line x1="551.15" y1="612.9" x2="557.65" y2="612.9" stroke="#000" stroke-width="2.5"/>
<line x1="551.15" y1="620.4" x2="557.65" y2="620.4" stroke="#000" stroke-width="2.5"/>
<line x1="554.4" y1="637.5" x2="554.4" y2="660.2" stroke="#000" stroke-width="2.2"/>
<line x1="551.15" y1="637.5" x2="557.65" y2="637.5" stroke="#000" stroke-width="2.5"/>
<line x1="551.15" y1="660.2" x2="557.65" y2="660.2" stroke="#000" stroke-width="2.5"/>
<line x1="620.9" y1="520.5" x2="620.9" y2="570.6" stroke="#000" stroke-width="2.2"/>
<line x1="617.65" y1="520.5" x2="624.15" y2="520.5" stroke="#000" stroke-width="2.5"/>
<line x1="617.65" y1="560.8" x2="624.15" y2="560.8" stroke="#000" stroke-width="2.5"/>
<line x1="617.65" y1="565.9" x2="624.15" y2="565.9" stroke="#000" stroke-width="2.5"/>
<line x1="617.65" y1="570.6" x2="624.15" y2="570.6" stroke="#000" stroke-width="2.5"/>
<line x1="620.9" y1="624" x2="620.9" y2="649.7" stroke="#000" stroke-width="2.2"/>
<line x1="617.65" y1="624" x2="624.15" y2="624" stroke="#000" stroke-width="2.5"/>
<line x1="617.65" y1="649.7" x2="624.15" y2="649.7" stroke="#000" stroke-width="2.5"/>
<line x1="649.4" y1="514.7" x2="649.4" y2="570.9" stroke="#000" stroke-width="2.2"/>
<line x1="646.15" y1="514.7" x2="652.65" y2="514.7" stroke="#000" stroke-width="2.5"/>
<line x1="646.15" y1="539.6" x2="652.65" y2="539.6" stroke="#000" stroke-width="2.5"/>
<line x1="646.15" y1="549.1" x2="652.65" y2="549.1" stroke="#000" stroke-width="2.5"/>
<line x1="646.15" y1="570.9" x2="652.65" y2="570.9" stroke="#000" stroke-width="2.5"/>
<line x1="649.4" y1="619.1" x2="649.4" y2="641.25" stroke="#000" stroke-width="2.2"/>
<line x1="646.15" y1="619.1" x2="652.65" y2="619.1" stroke="#000" stroke-width="2.5"/>
<line x1="646.15" y1="641.25" x2="652.65" y2="641.25" stroke="#000" stroke-width="2.5"/>
<rect x="456.25" y="657.85" width="6.3" height="6.3" fill="#000"/>
<rect x="522.75" y="634.55" width="6.3" height="6.3" fill="#000"/>
<rect x="551.25" y="576.05" width="6.3" height="6.3" fill="#000"/>
<rect x="617.75" y="540.65" width="6.3" height="6.3" fill="#000"/>
<rect x="646.25" y="528.65" width="6.3" height="6.3" fill="#000"/>
<polygon points="459.4,651.11 455.95,657.59 462.85,657.59" fill="#000"/>
<polygon points="525.9,631.01 522.45,637.49 529.35,637.49" fill="#000"/>
<polygon points="554.4,598.41 550.95,604.89 557.85,604.89" fill="#000"/>
<polygon points="620.9,555.71 617.45,562.19 624.35,562.19" fill="#000"/>
<polygon points="649.4,552.91 645.95,559.39 652.85,559.39" fill="#000"/>
<circle cx="459.4" cy="662" r="3.35" fill="#000"/>
<circle cx="525.9" cy="656.6" r="3.35" fill="#000"/>
<circle cx="554.4" cy="648.8" r="3.35" fill="#000"/>
<circle cx="620.9" cy="636.6" r="3.35" fill="#000"/>
<circle cx="649.4" cy="630" r="3.35" fill="#000"/>
<polygon points="657.9,553.9 658.85,555.7 660.85,556.04 659.43,557.5 659.72,559.51 657.9,558.61 656.08,559.51 656.37,557.5 654.95,556.04 656.95,555.7" fill="#000"/>
<polygon points="664.7,553.9 665.65,555.7 667.65,556.04 666.23,557.5 666.52,559.51 664.7,558.61 662.88,559.51 663.17,557.5 661.75,556.04 663.75,555.7" fill="#000"/>
<polygon points="659,626.9 659.86,628.52 661.66,628.83 660.38,630.15 660.65,631.97 659,631.16 657.35,631.97 657.62,630.15 656.34,628.83 658.14,628.52" fill="#000"/>
<line x1="679.4" y1="525.3" x2="695.7" y2="525.3" stroke="#000" stroke-width="2"/>
<rect x="684.8" y="522.55" width="5.5" height="5.5" fill="#000"/>
<text transform="translate(704.9,529.6) scale(1.09,1)" font-size="12">NC</text>
<line x1="679.4" y1="544.8" x2="695.7" y2="544.8" stroke="#000" stroke-width="2"/>
<circle cx="687.55" cy="544.8" r="2.95" fill="#000"/>
<text transform="translate(704.9,549.1) scale(1.09,1)" font-size="12">DMC</text>
<line x1="679.4" y1="562.7" x2="695.7" y2="562.7" stroke="#000" stroke-width="2"/>
<polygon points="687.55,559.59 684.5,565.31 690.6,565.31" fill="#000"/>
<text transform="translate(704.9,567) scale(1.09,1)" font-size="12">DM Li-ESWT</text>
<polygon points="740.7,538.15 741.72,540.09 743.89,540.46 742.36,542.04 742.67,544.21 740.7,543.24 738.73,544.21 739.04,542.04 737.51,540.46 739.68,540.09" fill="#000"/>
<polygon points="788.3,557.65 789.32,559.59 791.49,559.96 789.96,561.54 790.27,563.71 788.3,562.74 786.33,563.71 786.64,561.54 785.11,559.96 787.28,559.59" fill="#000"/>
<polygon points="795.1,557.65 796.12,559.59 798.29,559.96 796.76,561.54 797.07,563.71 795.1,562.74 793.13,563.71 793.44,561.54 791.91,559.96 794.08,559.59" fill="#000"/>
</svg>
</body></html>
